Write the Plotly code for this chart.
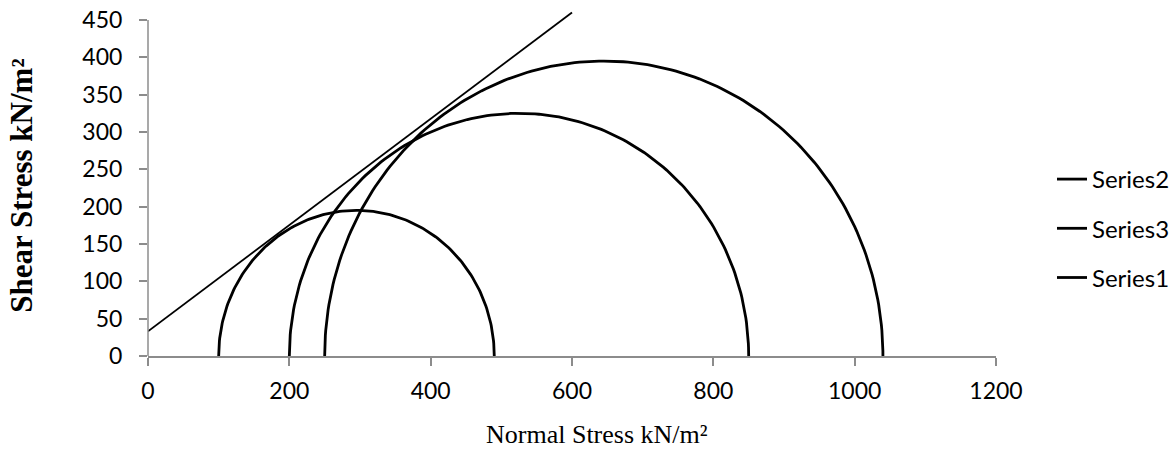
import numpy as np
import plotly.graph_objects as go

# Mohr circles: minor / major principal stresses (kN/m²)
series_names = ["Series1", "Series2", "Series3"]
sigma3 = [100, 200, 250]
sigma1 = [490, 850, 1040]
legend_rank = [3, 1, 2]

# Failure envelope end points (normal stress, shear stress)
env_x = [0, 600]
env_y = [33, 460]

x_ticks = [0, 200, 400, 600, 800, 1000, 1200]
y_ticks = [0, 50, 100, 150, 200, 250, 300, 350, 400, 450]

Y_MAX = 462
W, H = 1174, 449
L, R, T, B = 148, 178, 11, 93

fig = go.Figure()

theta = np.linspace(np.pi, 0, 181)
for name, s3, s1, rank in zip(series_names, sigma3, sigma1, legend_rank):
    c = (s1 + s3) / 2.0
    r = (s1 - s3) / 2.0
    fig.add_trace(go.Scatter(
        x=c + r * np.cos(theta), y=r * np.sin(theta),
        mode="lines", name=name,
        line=dict(color="black", width=2.8),
        legendgroup=name, legendrank=rank,
    ))

fig.add_trace(go.Scatter(
    x=env_x, y=env_y, mode="lines", showlegend=False,
    line=dict(color="black", width=1.8),
))

axis_grey = "#8c8c8c"
tick_font = dict(family="Lato", size=23, color="black")

fig.update_xaxes(
    range=[0, 1200], tickvals=x_ticks, showgrid=False, zeroline=False,
    showline=True, linecolor=axis_grey, linewidth=1.5,
    ticks="outside", ticklen=8, tickcolor=axis_grey, tickwidth=1.5,
    tickfont=tick_font, ticklabelstandoff=6, automargin=False,
)
fig.update_yaxes(
    range=[0, Y_MAX], tickvals=y_ticks, showgrid=False, zeroline=False,
    showline=False,
    ticks="outside", ticklen=8, tickcolor=axis_grey, tickwidth=1.5,
    tickfont=tick_font, ticklabelstandoff=12, automargin=False,
)

plot_h = H - T - B
plot_w = W - L - R

# vertical axis line drawn only up to the last tick
fig.add_shape(type="line", xref="paper", yref="paper",
              x0=0, x1=0, y0=0, y1=450 / Y_MAX,
              line=dict(color=axis_grey, width=1.5))

fig.add_annotation(
    text="Shear Stress kN/m²", textangle=-90, showarrow=False,
    xref="paper", yref="paper",
    x=-(L - 22) / plot_w, y=(228 / Y_MAX),
    xanchor="center", yanchor="middle",
    font=dict(family="Liberation Serif", size=31, color="black", weight="bold"),
)
fig.add_annotation(
    text="Normal Stress kN/m²", showarrow=False,
    xref="paper", yref="paper",
    x=(597 - L) / plot_w, y=-(434 - (H - B)) / plot_h,
    xanchor="center", yanchor="middle",
    font=dict(family="Liberation Serif", size=26, color="black"),
)

fig.update_layout(
    width=W, height=H,
    margin=dict(l=L, r=R, t=T, b=B, pad=0, autoexpand=False),
    paper_bgcolor="white", plot_bgcolor="white",
    legend=dict(
        x=(1052 - L) / plot_w, y=(H - B - 157) / plot_h,
        xanchor="left", yanchor="top",
        traceorder="grouped", tracegroupgap=15,
        font=dict(family="Lato", size=24, color="black"),
        bgcolor="rgba(0,0,0,0)",
    ),
)

fig.write_html("out.html")
